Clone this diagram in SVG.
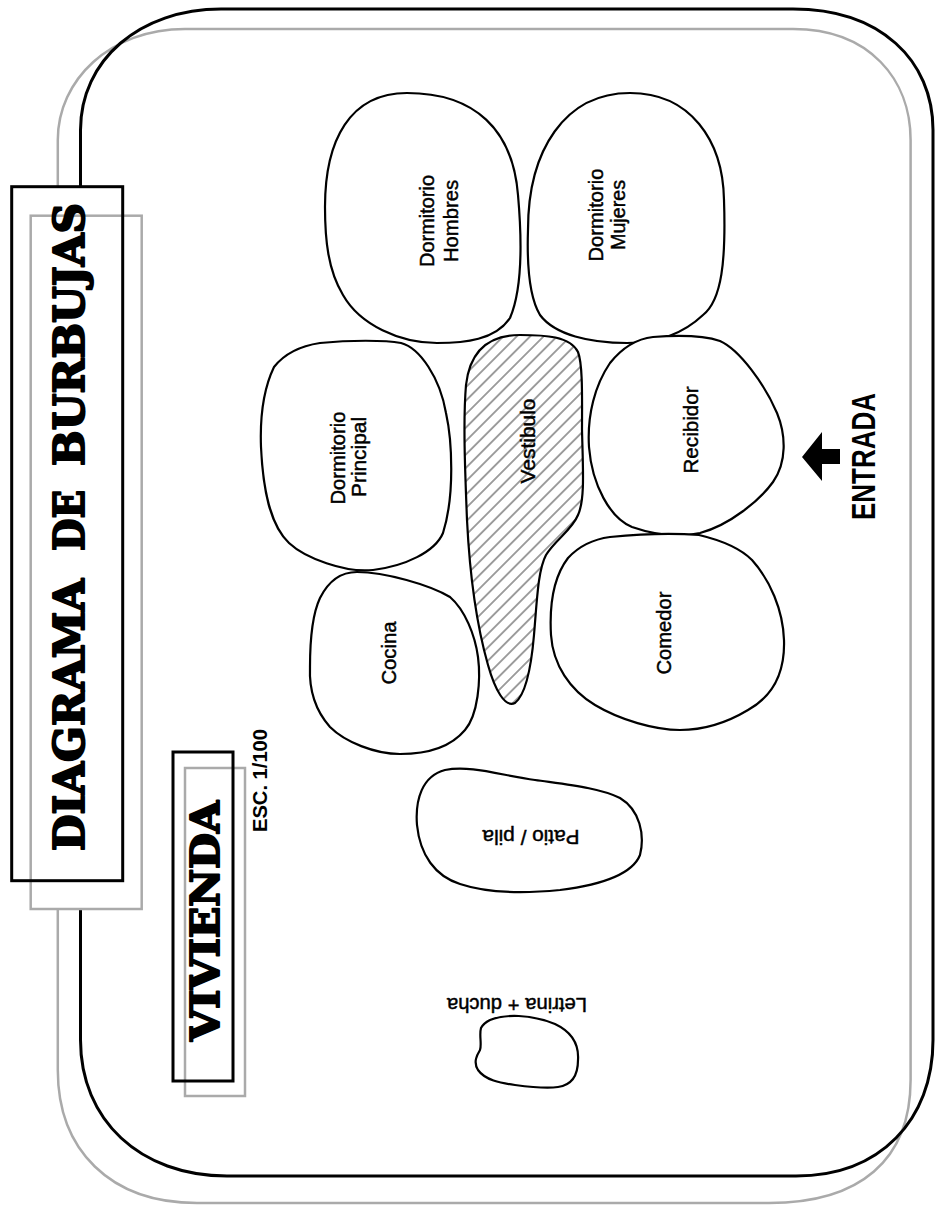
<svg xmlns="http://www.w3.org/2000/svg" width="935" height="1207" viewBox="0 0 935 1207">
<style>
.bubble{fill:#fff;stroke:#000;stroke-width:2.2}
.lbl{font-family:"Liberation Sans",Arial,sans-serif;font-size:20px;fill:#000;stroke:#000;stroke-width:0.45;text-anchor:middle}
.title{font-family:"DejaVu Serif","Liberation Serif",serif;font-weight:bold;fill:#000;stroke:#000;stroke-width:2;stroke-linejoin:round}
.boxB{fill:none;stroke:#000;stroke-width:3}
.boxG{fill:none;stroke:#aaa;stroke-width:2.5}
.white{fill:#fff;stroke:none}
</style>
<defs>
<pattern id="hatch" width="9.5" height="9.5" patternUnits="userSpaceOnUse" patternTransform="rotate(-45)">
<rect width="9.5" height="9.5" fill="#fff"/>
<line x1="0" y1="4.75" x2="9.5" y2="4.75" stroke="#777" stroke-width="1.4"/>
</pattern>
</defs>
<rect width="935" height="1207" fill="#fff"/>
<g id="frame">
<path class="boxG" d="M185,29 H793 C870,29 910.6,80 910.6,140 V1080 C910.6,1160 860,1203 769,1203 H197 C110,1203 57.8,1150 57.8,1070 V140 C57.8,80 110,29 185,29 Z"/>
<path class="boxB" d="M221,9 H793 C880,9 933,60 933,130 V1040 C933,1120 880,1176 796,1176 H227 C140,1176 80.5,1120 80.5,1040 V130 C80.5,60 140,9 221,9 Z"/>
</g>
<g id="title">
<rect class="white" x="11.7" y="186.7" width="111" height="694"/>
<rect class="white" x="30.7" y="215.7" width="111" height="693.3"/>
<rect class="boxG" x="30.7" y="215.7" width="111" height="693.3"/>
<rect class="boxB" x="11.7" y="186.7" width="111" height="694"/>
<g transform="translate(84,851) rotate(-90)">
<text class="title" x="0" y="0" font-size="43" textLength="272" lengthAdjust="spacingAndGlyphs">DIAGRAMA</text>
<text class="title" x="300" y="0" font-size="43" textLength="61" lengthAdjust="spacingAndGlyphs">DE</text>
<text class="title" x="385" y="0" font-size="43" textLength="263" lengthAdjust="spacingAndGlyphs">BURBUJAS</text>
</g>
</g>
<g id="vivienda">
<rect class="boxG" x="185" y="768" width="60" height="328"/>
<rect class="boxB" x="173" y="752" width="60" height="329"/>
<text class="title" transform="translate(219,1041) rotate(-90)" font-size="40" textLength="240" lengthAdjust="spacingAndGlyphs">VIVIENDA</text>
</g>
<g id="escala">
<text transform="translate(267,832) rotate(-90)" font-family="'Liberation Sans',Arial,sans-serif" font-weight="bold" font-size="19.5" textLength="103" lengthAdjust="spacingAndGlyphs">ESC. 1/100</text>
</g>
<g id="dorm-hombres">
<path class="bubble" d="M407,93 C475,93 513,130 518,195 C522,240 522,290 510,318 C495,340 465,343 437,343 C400,343 360,325 343,295 C328,270 325,240 325,207 C325,140 350,93 407,93 Z"/>
<text class="lbl" transform="translate(434,221) rotate(-90)" textLength="92" lengthAdjust="spacingAndGlyphs">Dormitorio</text>
<text class="lbl" transform="translate(458,221) rotate(-90)" textLength="82" lengthAdjust="spacingAndGlyphs">Hombres</text>
</g>
<g id="dorm-mujeres">
<path class="bubble" d="M630,93 C690,93 723,140 724,200 C726,260 722,300 703,315 C685,332 660,343 627,343 C590,343 555,335 540,315 C528,295 527,260 528,230 C528,150 565,93 630,93 Z"/>
<text class="lbl" transform="translate(603,215) rotate(-90)" textLength="93" lengthAdjust="spacingAndGlyphs">Dormitorio</text>
<text class="lbl" transform="translate(625,215) rotate(-90)" textLength="70" lengthAdjust="spacingAndGlyphs">Mujeres</text>
</g>
<g id="dorm-principal">
<path class="bubble" d="M320,343 C350,340 385,340 401,343 C420,348 440,378 446,413 C452,440 455,495 443,533 C435,552 405,566 373,570 C345,573 305,558 289,543 C270,525 263,490 261,447 C260,420 262,392 274,367 C285,353 300,346 320,343 Z"/>
<text class="lbl" transform="translate(345,458) rotate(-90)" textLength="93" lengthAdjust="spacingAndGlyphs">Dormitorio</text>
<text class="lbl" transform="translate(366,457) rotate(-90)" textLength="80" lengthAdjust="spacingAndGlyphs">Principal</text>
</g>
<g id="cocina">
<path class="bubble" d="M357,572 C385,572 430,585 450,597 C465,610 475,635 478,657 C481,680 478,715 465,730 C450,748 425,754 400,754 C375,754 345,742 330,727 C315,710 309,690 310,667 C310,640 312,615 320,598 C328,582 340,572 357,572 Z"/>
<text class="lbl" transform="translate(396,653) rotate(-90)" textLength="63" lengthAdjust="spacingAndGlyphs">Cocina</text>
</g>
<g id="vestibulo">
<path class="bubble" style="fill:url(#hatch)" d="M520,335 C545,335 570,336 578,352 C583,365 582,400 582,430 C583,470 585,500 578,515 C572,530 555,540 546,555 C538,570 537,600 534,635 C531,670 525,695 515,703 C505,708 495,690 488,665 C478,630 470,580 467,520 C465,470 463,420 466,385 C470,350 490,335 520,335 Z"/>
<text class="lbl" transform="translate(535,441) rotate(-90)" textLength="85" lengthAdjust="spacingAndGlyphs">Vestibulo</text>
</g>
<g id="recibidor">
<path class="bubble" d="M653,337 C680,335 705,336 720,341 C740,350 765,385 777,413 C786,435 787,462 773,482 C760,500 730,525 700,533 C680,537 655,535 632,527 C610,518 592,485 589,447 C587,415 595,385 610,363 C622,348 635,339 653,337 Z"/>
<text class="lbl" transform="translate(698,430) rotate(-90)" textLength="87" lengthAdjust="spacingAndGlyphs">Recibidor</text>
</g>
<g id="comedor">
<path class="bubble" d="M610,537 C640,534 675,533 699,535 C720,540 740,548 752,560 C770,580 783,610 784,640 C785,670 775,695 748,710 C728,722 705,730 680,730 C655,730 620,720 595,705 C570,690 553,665 551,635 C549,600 555,575 568,558 C580,545 595,539 610,537 Z"/>
<text class="lbl" transform="translate(671,633) rotate(-90)" textLength="83" lengthAdjust="spacingAndGlyphs">Comedor</text>
</g>
<g id="patio">
<path class="bubble" d="M445,770 C470,765 500,775 535,780 C570,785 600,788 620,798 C640,810 645,835 640,855 C632,875 600,885 560,890 C530,893 490,894 460,884 C435,876 420,855 417,825 C415,800 422,776 445,770 Z"/>
<text class="lbl" transform="translate(531,830) rotate(180)" textLength="97" lengthAdjust="spacingAndGlyphs">Patio / pila</text>
</g>
<g id="letrina">
<path class="bubble" d="M490,1020 C505,1014 530,1014 555,1024 C572,1032 579,1045 578,1060 C578,1075 572,1085 558,1087 C545,1089 530,1087 515,1085 C500,1083 485,1080 478,1070 C473,1062 477,1055 480,1050 C482,1044 479,1035 481,1028 C483,1024 486,1022 490,1020 Z"/>
<text class="lbl" transform="translate(517,998) rotate(180)" textLength="140" lengthAdjust="spacingAndGlyphs">Letrina + ducha</text>
</g>
<g id="entrada">
<polygon points="802,457 822,432 822,449 840,449 840,464 822,464 822,481" fill="#000"/>
<text transform="translate(875,520) rotate(-90)" font-family="'Liberation Sans',Arial,sans-serif" font-weight="bold" font-size="33" textLength="127" lengthAdjust="spacingAndGlyphs">ENTRADA</text>
</g>
<g id="connectors"></g>
</svg>
